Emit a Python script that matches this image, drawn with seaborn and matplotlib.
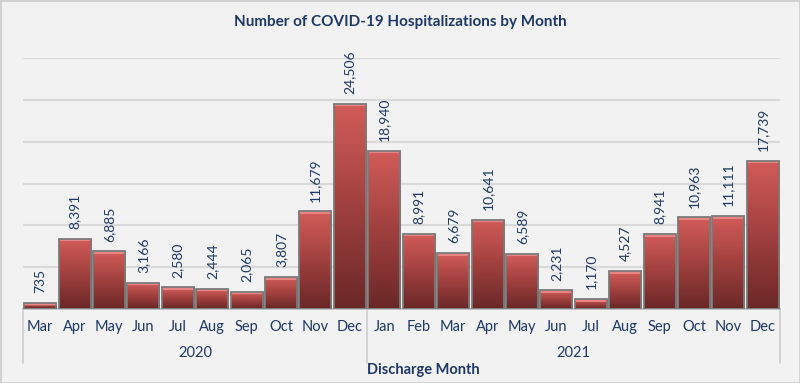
"""
Hospitalisations COVID-19 par mois (barres dégradées)
"""

import matplotlib.pyplot as plt
import matplotlib.colors as mcolors
import seaborn as sns
import pandas as pd
import numpy as np

# Données
months_2020 = ['Mar', 'Apr', 'May', 'Jun', 'Jul', 'Aug', 'Sep', 'Oct', 'Nov', 'Dec']
values_2020 = [735, 8391, 6885, 3166, 2580, 2444, 2065, 3807, 11679, 24506]
months_2021 = ['Jan', 'Feb', 'Mar', 'Apr', 'May', 'Jun', 'Jul', 'Aug', 'Sep', 'Oct', 'Nov', 'Dec']
values_2021 = [18940, 8991, 6679, 10641, 6589, 2231, 1170, 4527, 8941, 10963, 11111, 17739]
years = ['2020', '2021']

title = 'Number of COVID-19 Hospitalizations by Month'
xlabel = 'Discharge Month'

df = pd.DataFrame({
    'year': [years[0]] * len(months_2020) + [years[1]] * len(months_2021),
    'month': months_2020 + months_2021,
    'value': values_2020 + values_2021,
})
df['key'] = df['year'] + '-' + df['month']

# Style
sns.set_style('white')
plt.rcParams['font.family'] = ['Lato', 'DejaVu Sans']
navy = '#1f3864'
bg = '#f2f2f2'
ymax = 30000
ax_h_px = 251

fig = plt.figure(figsize=(8, 3.83), dpi=100, facecolor=bg)
ax = fig.add_axes([23 / 800, (383 - 309) / 383, 757 / 800, ax_h_px / 383])
ax.set_facecolor(bg)

sns.barplot(data=df, x='key', y='value', color='#c0504d', width=0.93,
            edgecolor='#7a7a7a', linewidth=1.3, ax=ax, zorder=2)

ax.set_yticks(np.arange(0, ymax + 1, 5000))
ax.yaxis.grid(True, color='#d9d9d9', linewidth=1.5)
ax.set_axisbelow(True)
ax.tick_params(axis='y', left=False, labelleft=False)
ax.set_ylabel('')
for s in ['left', 'right', 'top']:
    ax.spines[s].set_visible(False)
ax.spines['bottom'].set_color('#bfbfbf')
ax.spines['bottom'].set_linewidth(1.3)

# Dégradé dans chaque barre, avec un liseré clair en haut (effet biseau)
cmap = mcolors.LinearSegmentedColormap.from_list(
    'bar', ['#6a2827', '#a0403e', '#d25c59'])
hl = np.array(mcolors.to_rgb('#e88684'))
for patch, val in zip(ax.patches, df['value']):
    x0, y0 = patch.get_x(), patch.get_y()
    w, h = patch.get_width(), patch.get_height()
    npx = max(int(round(h / ymax * ax_h_px)), 2)
    img = cmap(np.linspace(0, 1, npx))[:, :3]
    img[-3:] = hl
    im = ax.imshow(img.reshape(npx, 1, 3), aspect='auto', origin='lower',
                   extent=[x0, x0 + w, y0, y0 + h], zorder=2.5,
                   interpolation='bilinear')
    im.set_clip_path(patch)
    patch.set_facecolor('none')
    patch.set_zorder(3)
    # étiquette de valeur
    ax.annotate(f'{val:,}', (x0 + w / 2, h), xytext=(0, 7),
                textcoords='offset points', rotation=90, ha='center',
                va='bottom', color=navy, fontsize=10)
ax.set_xlim(-0.5, len(df) - 0.5)
ax.set_ylim(0, ymax)

# Axe X: mois puis années
ax.set_xticks(range(len(df)))
ax.set_xticklabels(df['month'], color=navy, fontsize=10.5)
ax.tick_params(axis='x', length=0, pad=8)
ax.set_xlabel('')

trans = ax.get_xaxis_transform()
for xs in [-0.5, len(months_2020) - 0.5, len(df) - 0.5]:
    ax.plot([xs, xs], [0, -0.215], color='#d0d0d0', linewidth=1.3,
            transform=trans, clip_on=False)
ax.text((len(months_2020) - 1) / 2, -0.175, years[0], transform=trans,
        ha='center', va='center', color=navy, fontsize=10.5)
ax.text(len(months_2020) + (len(months_2021) - 1) / 2, -0.175, years[1],
        transform=trans, ha='center', va='center', color=navy, fontsize=10.5)

fig.text(0.5, 0.943, title, ha='center', va='center', color=navy,
         fontsize=11, fontweight='bold')
fig.text(423 / 800, 0.034, xlabel, ha='center', va='center', color=navy,
         fontsize=10.5, fontweight='bold')

# cadre autour de la figure
fig.patches.append(plt.Rectangle((0, 0), 1, 1, transform=fig.transFigure,
                                 fill=False, edgecolor='#d0d0d0', linewidth=2))

plt.savefig('out.png', dpi=100, facecolor=bg)
plt.close()
